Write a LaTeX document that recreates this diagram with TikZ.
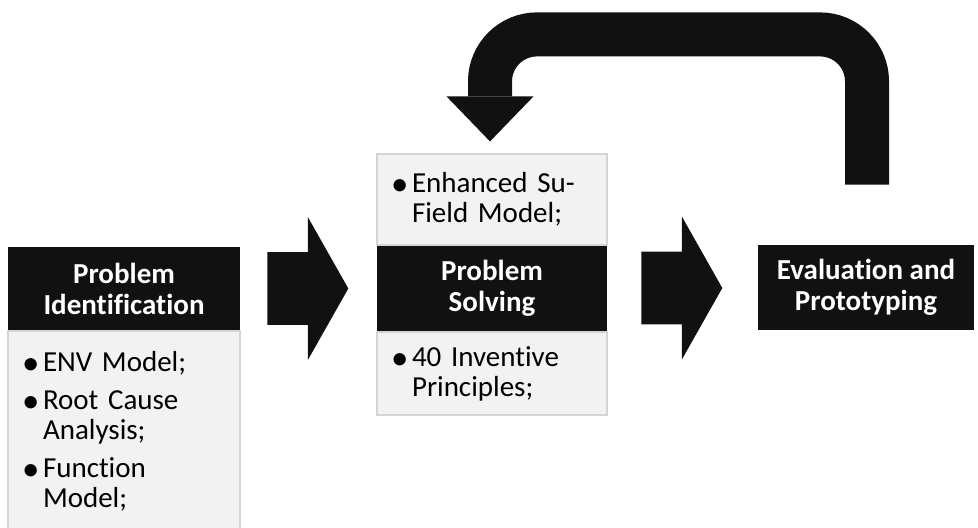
\documentclass[tikz,border=0pt]{standalone}
\usepackage{fontspec}
\setmainfont{Carlito}[Ligatures=NoCommon]
\usepackage{xcolor}
\usetikzlibrary{shapes,arrows.meta,positioning,calc}

\definecolor{darkbox}{HTML}{111111}
\definecolor{lightbox}{HTML}{F2F2F2}
\definecolor{lightedge}{HTML}{D4D4D4}

\newcommand{\listfont}{\fontsize{14.5}{15}\selectfont}
\newcommand{\titlefont}{\bfseries\fontsize{14.5}{15.5}\selectfont}
\newcommand{\bul}{\makebox[8.5pt][l]{\hspace{-2pt}\raisebox{-1.6pt}{\scalebox{1.2}{\textbullet}}}}
\newcommand{\ind}{\hspace*{8.5pt}}

\begin{document}
\begin{tikzpicture}[x=0.5pt, y=-0.5pt,
    titlebox/.style={rectangle, fill=darkbox, text=white, align=center, font=\titlefont, inner sep=0pt},
    listbox/.style={rectangle, draw=lightedge, fill=lightbox, align=left, font=\listfont, inner xsep=9pt, inner ysep=0pt, line width=0.6pt},
    blockarrow/.style={single arrow, fill=darkbox, inner xsep=0pt, inner ysep=18pt, minimum height=40.5pt, single arrow head extend=17.5pt, single arrow tip angle=121, single arrow head indent=0pt},
    feedback/.style={draw=darkbox, line width=22pt, rounded corners=23.5pt, -{Triangle[length=22.5pt, width=43.5pt, line width=0pt]}}]
    \useasboundingbox (0,0) rectangle (978,527);

    \node [titlebox, minimum width=116pt, minimum height=41.5pt] (ident) at (124,288.5) {Problem\\Identification};
    \node [listbox, text width=98pt, minimum height=100pt, below=0pt of ident] (identlist) {\bul ENV Model;\\[4pt]\bul Root Cause\\\ind Analysis;\\[4pt]\bul Function\\\ind Model;};

    \node [titlebox, minimum width=115pt, minimum height=42.5pt] (solve) at (492,288.5) {Problem\\Solving};
    \node [listbox, text width=97pt, minimum height=45.5pt, above=0pt of solve] (solvetop) {\bul Enhanced Su-\\\ind Field Model;};
    \node [listbox, text width=97pt, minimum height=41.5pt, below=0pt of solve] (solvebottom) {\bul 40 Inventive\\\ind Principles;};

    \node [titlebox, minimum width=108pt, minimum height=42.5pt] (evalproto) at (866,287.5) {Evaluation and\\Prototyping};

    \node [blockarrow] (arrowA) at ($(ident.east)!0.5!(solve.west)+(-11,0)$) {};
    \node [blockarrow] (arrowB) at ($(solve.east)!0.5!(evalproto.west)+(-11,0)$) {};

    \coordinate (fbstart) at ($(evalproto.north)+(1,-60)$);
    \coordinate (fbend) at ($(solvetop.north)+(-2,-12)$);
    \coordinate (fbtop) at ($(fbend)+(0,-107)$);
    \draw [feedback] (fbstart) |- (fbtop) -- (fbend);
\end{tikzpicture}
\end{document}
